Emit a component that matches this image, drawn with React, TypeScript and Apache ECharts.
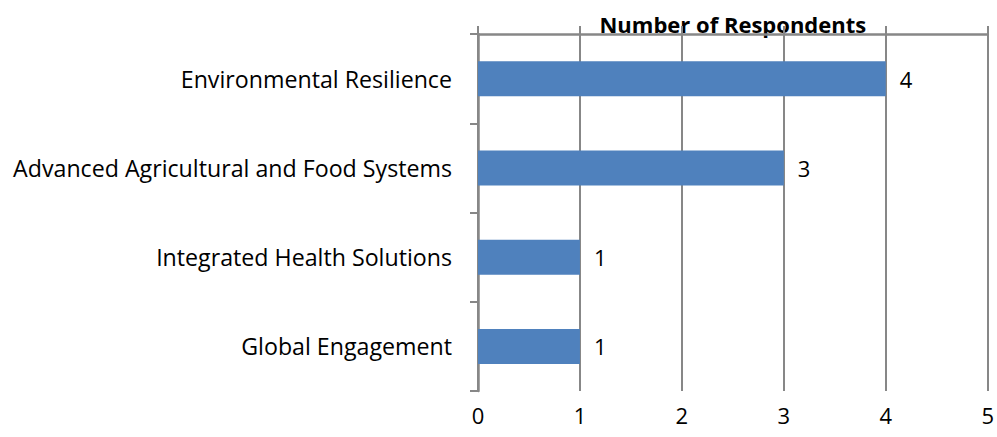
import React, { useEffect, useRef } from "react";
import * as echarts from "echarts";

const categories = [
  "Environmental Resilience",
  "Advanced Agricultural and Food Systems",
  "Integrated Health Solutions",
  "Global Engagement",
];
const respondents = [4, 3, 1, 1];
const axisName = "Number of Respondents";

const FONT = "Open Sans";
const GRAY = "#878787";

export default function App() {
  const ref = useRef<HTMLDivElement>(null);
  useEffect(() => {
    if (!ref.current) return;
    const chart = echarts.init(ref.current, undefined, { renderer: "svg" });
    chart.setOption({
      animation: false,
      grid: { left: 478, right: 8, top: 34, bottom: 46 },
      xAxis: [
        {
          type: "value",
          position: "top",
          min: 0,
          max: 5,
          interval: 1,
          name: axisName,
          nameLocation: "middle",
          nameGap: -1,
          nameTextStyle: { fontFamily: FONT, fontWeight: "bold", fontSize: 22, color: "#000" },
          axisLine: { show: true, lineStyle: { color: GRAY, width: 2.5 } },
          axisTick: { show: true, length: 8, lineStyle: { color: GRAY, width: 2 } },
          axisLabel: { show: false },
          splitLine: { show: true, lineStyle: { color: GRAY, width: 2 } },
        },
        {
          type: "value",
          position: "bottom",
          min: 0,
          max: 5,
          interval: 1,
          axisLine: { show: false },
          axisTick: { show: false },
          axisLabel: { show: true, margin: 13, fontFamily: FONT, fontSize: 22, color: "#000" },
          splitLine: { show: false },
        },
      ],
      yAxis: {
        type: "category",
        inverse: true,
        data: categories,
        axisLine: { show: true, lineStyle: { color: GRAY, width: 2.5 } },
        axisTick: { show: true, length: 8, lineStyle: { color: GRAY, width: 2 } },
        axisLabel: { margin: 26, fontFamily: FONT, fontSize: 23.2, color: "#000" },
      },
      series: [
        {
          type: "bar",
          xAxisIndex: 0,
          data: respondents,
          barWidth: 35,
          itemStyle: { color: "#4F81BD" },
          label: {
            show: true,
            position: "right",
            distance: 14,
            fontFamily: FONT,
            fontSize: 22,
            color: "#000",
          },
        },
      ],
    });
    return () => chart.dispose();
  }, []);
  return <div ref={ref} style={{ width: 997, height: 437, position: "absolute", left: 0, top: 0 }} />;
}
